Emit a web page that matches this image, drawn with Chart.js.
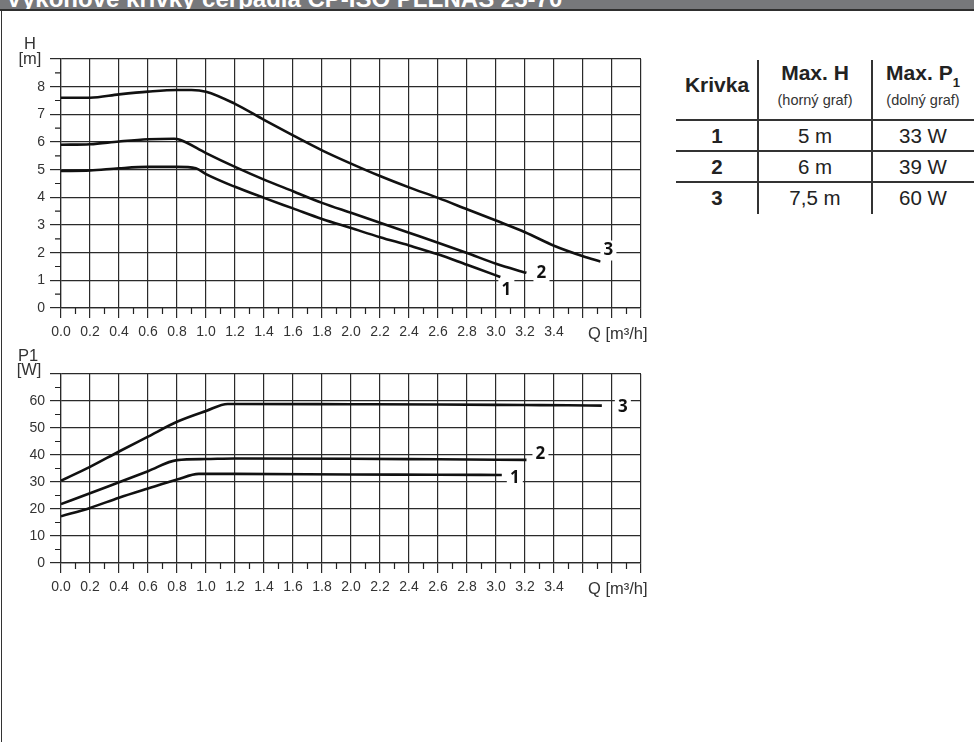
<!DOCTYPE html>
<html>
<head>
<meta charset="utf-8">
<script src="https://cdn.jsdelivr.net/npm/chart.js@4.4.1/dist/chart.umd.min.js"></script>
<style>
  body { margin:0; width:974px; height:742px; background:#fff; position:relative; overflow:hidden; font-family:"Liberation Sans", Arial, sans-serif; color:#222; }
  #head { position:absolute; left:0; top:0; width:974px; height:9px; background:#77787b; border-bottom:2px solid #2e2e2e; overflow:hidden; }
  #head span { position:absolute; left:6px; top:-13px; font-size:24px; line-height:23px; font-weight:bold; color:#fff; white-space:nowrap; }
  #lborder { position:absolute; left:1px; top:11px; width:1px; height:731px; background:#333; }
  canvas { position:absolute; left:0; }
  .lab { position:absolute; font-size:16.5px; color:#333; line-height:16px; text-align:center; white-space:nowrap; }
  #tab div { position:absolute; white-space:nowrap; }
  .c { text-align:center; height:24px; line-height:24px; }
</style>
</head>
<body>
<div id="head"><span>Výkonové krivky čerpadla CP-ISO PLENAS 25-70</span></div>
<div id="lborder"></div>

<canvas id="chartH" width="660" height="320" style="top:30px;width:660px;height:320px"></canvas>
<canvas id="chartP" width="660" height="265" style="top:345px;width:660px;height:265px"></canvas>

<div class="lab" style="left:20px;top:35px;width:20px">H</div>
<div class="lab" style="left:16px;top:50px;width:28px">[m]</div>
<div class="lab" style="left:588px;top:325px">Q [m³/h]</div>
<div class="lab" style="left:13px;top:347px;width:30px">P1</div>
<div class="lab" style="left:14px;top:361px;width:30px">[W]</div>
<div class="lab" style="left:588px;top:580px">Q [m³/h]</div>

<div id="tab"></div>

<script>
// datos: krivky H (horny graf)
var q1H = [0, 0.2, 0.4, 0.6, 0.8, 0.93, 1.0, 1.2, 1.4, 1.6, 1.8, 2.0, 2.2, 2.4, 2.6, 2.8, 3.0, 3.03];
var h1 = [4.95, 4.97, 5.05, 5.1, 5.1, 5.05, 4.84, 4.38, 3.98, 3.6, 3.22, 2.89, 2.56, 2.26, 1.94, 1.56, 1.18, 1.12];
var q2H = [0, 0.2, 0.4, 0.6, 0.78, 0.82, 1.0, 1.2, 1.4, 1.6, 1.8, 2.0, 2.2, 2.4, 2.6, 2.8, 3.0, 3.21];
var h2 = [5.9, 5.92, 6.02, 6.1, 6.12, 6.08, 5.6, 5.1, 4.64, 4.22, 3.8, 3.44, 3.08, 2.72, 2.36, 1.99, 1.6, 1.27];
var q3H = [0, 0.2, 0.4, 0.6, 0.8, 0.9, 1.0, 1.2, 1.4, 1.6, 1.8, 2.0, 2.2, 2.4, 2.6, 2.8, 3.0, 3.2, 3.4, 3.6, 3.72];
var h3 = [7.6, 7.6, 7.72, 7.82, 7.88, 7.88, 7.82, 7.38, 6.8, 6.24, 5.7, 5.22, 4.77, 4.36, 3.98, 3.57, 3.16, 2.74, 2.25, 1.87, 1.68];

// datos: krivky P1 (dolny graf)
var q1P = [0, 0.2, 0.4, 0.6, 0.8, 0.95, 1.2, 2.0, 2.6, 3.04];
var p1 = [17.3, 20.4, 24.2, 27.6, 30.9, 33, 33, 32.8, 32.7, 32.6];
var q2P = [0, 0.2, 0.4, 0.6, 0.8, 1.0, 1.2, 2.0, 2.6, 3.21];
var p2 = [21.8, 25.8, 29.9, 34, 38.1, 38.5, 38.7, 38.6, 38.4, 38.2];
var q3P = [0, 0.2, 0.4, 0.6, 0.8, 1.0, 1.15, 1.2, 2.0, 2.6, 3.2, 3.5, 3.73];
var p3 = [30.5, 35.6, 41.3, 46.8, 52.3, 56.3, 58.9, 58.9, 58.8, 58.7, 58.5, 58.4, 58.3];

var krivky = ['1', '2', '3'];
var xTickLast = 3.4;

// tabulka
var tabHlavicka = ['Krivka', 'Max. H', 'Max. P'];
var tabPodnadpis = ['', '(horný graf)', '(dolný graf)'];
var maxH = ['5 m', '6 m', '7,5 m'];
var maxP = ['33 W', '39 W', '60 W'];

function body(qs, vs) {
  var out = [];
  for (var i in qs) out.push({x: qs[i], y: vs[i]});
  return out;
}

var extras = {
  id: 'extras',
  afterDraw: function(chart) {
    var o = chart.options.plugins.extras;
    var ctx = chart.ctx, xs = chart.scales.x, ys = chart.scales.y, a = chart.chartArea;
    ctx.save();
    ctx.strokeStyle = '#222';
    ctx.lineWidth = 1.2;
    ctx.beginPath();
    for (var q = 0.1; q < xs.max; q += 0.2) {
      var px = xs.getPixelForValue(q);
      ctx.moveTo(px, a.bottom); ctx.lineTo(px, a.bottom + 6);
    }
    for (var v = o.yStep / 2; v < ys.max; v += o.yStep) {
      var py = ys.getPixelForValue(v);
      ctx.moveTo(a.left - 6, py); ctx.lineTo(a.left, py);
    }
    ctx.stroke();
    // cisla kriviek
    ctx.font = 'bold 17px "Open Sans", "Liberation Sans", sans-serif';
    ctx.textAlign = 'center';
    ctx.textBaseline = 'middle';
    chart.data.datasets.forEach(function(ds, i) {
      var last = ds.data[ds.data.length - 1];
      var lx = xs.getPixelForValue(last.x) + o.offsets[i][0];
      var ly = ys.getPixelForValue(last.y) + o.offsets[i][1];
      ctx.fillStyle = '#fff';
      ctx.fillRect(lx - 8, ly - 10, 16, 20);
      ctx.fillStyle = '#111';
      ctx.fillText(ds.label, lx, ly);
    });
    ctx.restore();
  }
};

function graf(id, sady, yMax, yStep, padBottom, offsets) {
  var datasets = [];
  for (var i in sady) {
    datasets.push({
      label: krivky[i],
      data: sady[i],
      borderColor: '#111',
      borderWidth: 2.6,
      pointRadius: 0,
      fill: false,
      cubicInterpolationMode: 'monotone'
    });
  }
  var tickFont = {family: '"Liberation Sans", Arial, sans-serif', size: 14};
  return new Chart(document.getElementById(id), {
    type: 'line',
    data: {datasets: datasets},
    plugins: [extras],
    options: {
      responsive: false,
      animation: false,
      layout: {padding: {left: 11, right: 19, top: 29, bottom: padBottom}},
      plugins: {
        legend: {display: false},
        tooltip: {enabled: false},
        extras: {yStep: yStep, offsets: offsets}
      },
      scales: {
        x: {
          type: 'linear', min: 0, max: 4,
          grid: {color: '#2a2a2a', lineWidth: 1.2, tickLength: 10, tickColor: '#2a2a2a'},
          border: {color: '#2a2a2a', width: 1.2},
          ticks: {
            stepSize: 0.2, color: '#333', font: tickFont, padding: 6, maxRotation: 0, autoSkip: false,
            callback: function(v) { return v > xTickLast + 0.01 ? '' : v.toFixed(1); }
          },
          afterFit: function(s) { s.height = 30; }
        },
        y: {
          type: 'linear', min: 0, max: yMax,
          grid: {color: '#2a2a2a', lineWidth: 1.2, tickLength: 11, tickColor: '#2a2a2a'},
          border: {color: '#2a2a2a', width: 1.2},
          ticks: {
            stepSize: yStep, color: '#333', font: tickFont, padding: 5,
            callback: function(v) { return v >= yMax ? '' : v; }
          },
          afterFit: function(s) { s.width = 50; }
        }
      }
    }
  });
}

graf('chartH', [body(q1H, h1), body(q2H, h2), body(q3H, h3)], 9, 1, 12,
     [[6, 13], [15, 0], [8, -11]]);
graf('chartP', [body(q1P, p1), body(q2P, p2), body(q3P, p3)], 70, 10, 17,
     [[13, 3], [14, -6], [21, 2]]);

// tabulka vpravo
var tab = document.getElementById('tab');
var colX = [676, 758, 872, 974];
var html = '';
function bunka(x, w, cy, size, bold, text, color) {
  return '<div class="c" style="left:' + x + 'px;top:' + (cy - 12) + 'px;width:' + w + 'px;font-size:' + size +
    'px;font-weight:' + (bold ? 'bold' : 'normal') + ';color:' + (color || '#222') + '">' + text + '</div>';
}
for (var c = 0; c < 3; c++) {
  var w = colX[c + 1] - colX[c];
  var txt = tabHlavicka[c] + (c === 2 ? '<sub style="font-size:13px;position:relative;top:2px;line-height:0">1</sub>' : '');
  html += bunka(colX[c], w, c === 0 ? 85 : 73, 21, true, txt);
  if (tabPodnadpis[c]) html += bunka(colX[c], w, 99.5, 14.5, false, tabPodnadpis[c], '#333');
}
for (var r = 0; r < krivky.length; r++) {
  var cy = 136 + r * 31;
  html += bunka(676, 82, cy, 20.5, true, krivky[r]);
  html += bunka(758, 114, cy, 20.5, false, maxH[r]);
  html += bunka(872, 102, cy, 20.5, false, maxP[r]);
}
[119, 150, 181].forEach(function(ly) {
  html += '<div style="left:676px;top:' + ly + 'px;width:298px;height:2px;background:#333"></div>';
});
[757, 871].forEach(function(lx) {
  html += '<div style="left:' + lx + 'px;top:60px;width:2px;height:154px;background:#333"></div>';
});
tab.innerHTML = html;
</script>
</body>
</html>
